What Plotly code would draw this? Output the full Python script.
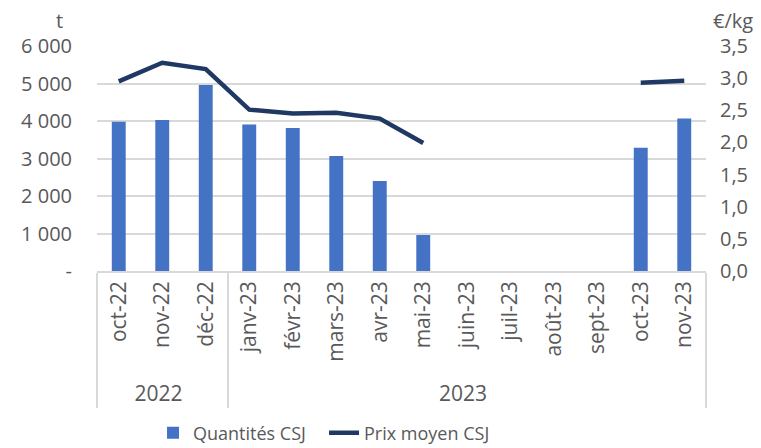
import plotly.graph_objects as go

mois = ['oct-22', 'nov-22', 'déc-22', 'janv-23', 'févr-23', 'mars-23', 'avr-23',
        'mai-23', 'juin-23', 'juil-23', 'août-23', 'sept-23', 'oct-23', 'nov-23']
annees = ['2022'] * 3 + ['2023'] * 11

quantites = [3980, 4025, 4960, 3910, 3815, 3070, 2400, 960, None, None, None, None, 3290, 4070]
prix = [2.95, 3.24, 3.14, 2.51, 2.45, 2.46, 2.37, 1.99, None, None, None, None, 2.93, 2.96]

ticks_t = [0, 1000, 2000, 3000, 4000, 5000, 6000]
ticks_t_txt = ['-', '1 000', '2 000', '3 000', '4 000', '5 000', '6 000']

gris = '#595959'
police = 'Open Sans'

fig = go.Figure()
fig.add_trace(go.Bar(
    name='Quantités CSJ', x=[annees, mois], y=quantites,
    marker=dict(color='#4472C4', line=dict(width=0)),
))
fig.add_trace(go.Scatter(
    name='Prix moyen CSJ', x=[annees, mois], y=prix, yaxis='y2',
    mode='lines', line=dict(color='#203864', width=4.5), connectgaps=False,
))

# la page a une marge de 8 px : figure un peu plus petite que la fenêtre
fig.update_layout(
    width=753, height=440,
    template='plotly_white',
    separators=', ',
    font=dict(family=police, size=17, color=gris),
    margin=dict(l=89, r=55, t=38, b=177, autoexpand=False),
    bargap=0.68,
    showlegend=True,
    legend=dict(orientation='h', x=0.092, xanchor='left', y=-0.72, yanchor='middle',
                entrywidth=126, entrywidthmode='pixels',
                font=dict(size=18, color=gris), traceorder='normal'),
    xaxis=dict(type='multicategory', tickangle=-90, showgrid=False, automargin=False,
               showdividers=True, dividercolor='#d9d9d9', dividerwidth=1.5,
               showline=True, linecolor='#d9d9d9', linewidth=1.5, ticks='',
               tickfont=dict(size=21, color=gris)),
    yaxis=dict(range=[0, 6000], tickvals=ticks_t, ticktext=ticks_t_txt, automargin=False,
               gridcolor='#d9d9d9', gridwidth=1.5, zeroline=False, ticklabelstandoff=24,
               tickfont=dict(size=20, color=gris)),
    yaxis2=dict(range=[0, 3.5], overlaying='y', side='right', dtick=0.5, automargin=False,
                tickformat='.1f', showgrid=False, zeroline=False, ticklabelstandoff=13,
                tickfont=dict(size=20, color=gris)),
    annotations=[
        dict(text='t', x=-0.062, y=1.0, xref='paper', yref='paper', xanchor='center',
             yanchor='middle', yshift=26, showarrow=False, font=dict(size=20, color=gris)),
        dict(text='€/kg', x=1.08, y=1.0, xref='paper', yref='paper', xanchor='right',
             yanchor='middle', yshift=26, showarrow=False, font=dict(size=20, color=gris)),
    ],
)

fig.write_html('out.html')
